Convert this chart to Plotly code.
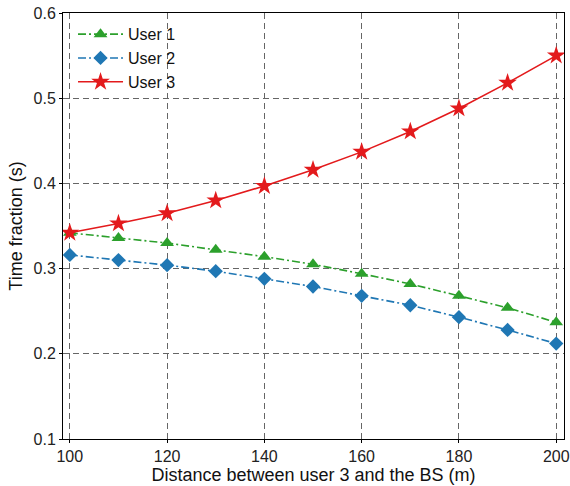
import plotly.graph_objects as go

distance = [100, 110, 120, 130, 140, 150, 160, 170, 180, 190, 200]
user1 = [0.342, 0.336, 0.330, 0.322, 0.314, 0.305, 0.294, 0.282, 0.268, 0.254, 0.237]
user2 = [0.316, 0.310, 0.304, 0.297, 0.288, 0.279, 0.268, 0.257, 0.243, 0.228, 0.212]
user3 = [0.342, 0.353, 0.365, 0.380, 0.397, 0.416, 0.437, 0.461, 0.488, 0.518, 0.550]
x_ticks = [100, 120, 140, 160, 180, 200]
y_ticks = [0.1, 0.2, 0.3, 0.4, 0.5, 0.6]

FONT = "Liberation Sans, Arial"

fig = go.Figure()
fig.add_trace(go.Scatter(x=distance, y=user1, name="User 1", mode="lines+markers",
                         line=dict(color="#2ca02c", width=1.6, dash="8px,3px,2px,3px"),
                         marker=dict(symbol="triangle-up", size=12, color="#2ca02c")))
fig.add_trace(go.Scatter(x=distance, y=user2, name="User 2", mode="lines+markers",
                         line=dict(color="#1f77b4", width=1.6, dash="8px,3px,2px,3px"),
                         marker=dict(symbol="diamond", size=11, color="#1f77b4")))
fig.add_trace(go.Scatter(x=distance, y=user3, name="User 3", mode="lines+markers",
                         line=dict(color="#e31a1c", width=1.6),
                         marker=dict(symbol="star", size=14, color="#e31a1c")))

axis_common = dict(showline=True, linecolor="black", linewidth=1, mirror=True,
                   showgrid=True, gridcolor="#666666", gridwidth=1, griddash="6px,4px",
                   zeroline=False, ticks="outside", ticklen=3, tickcolor="black",
                   automargin=False,
                   tickfont=dict(family=FONT, size=16, color="#222"))

fig.update_xaxes(range=[98.6, 201.6], tickvals=x_ticks,
                 title=dict(text="Distance between user 3 and the BS (m)", standoff=2,
                            font=dict(family=FONT, size=18, color="#111")),
                 **axis_common)
fig.update_yaxes(range=[0.1, 0.6], tickvals=y_ticks, tickformat=".1f",
                 title=dict(text="Time fraction (s)", standoff=6,
                            font=dict(family=FONT, size=18, color="#111")),
                 **axis_common)

fig.update_layout(width=570, height=486, margin=dict(l=63, r=6, t=13, b=47),
                  plot_bgcolor="white", paper_bgcolor="white",
                  legend=dict(x=0.02, y=0.99, xanchor="left", yanchor="top",
                              itemwidth=45,
                              bgcolor="rgba(255,255,255,0)", tracegroupgap=0,
                              font=dict(family=FONT, size=16, color="#111")))

fig.write_html("out.html")
